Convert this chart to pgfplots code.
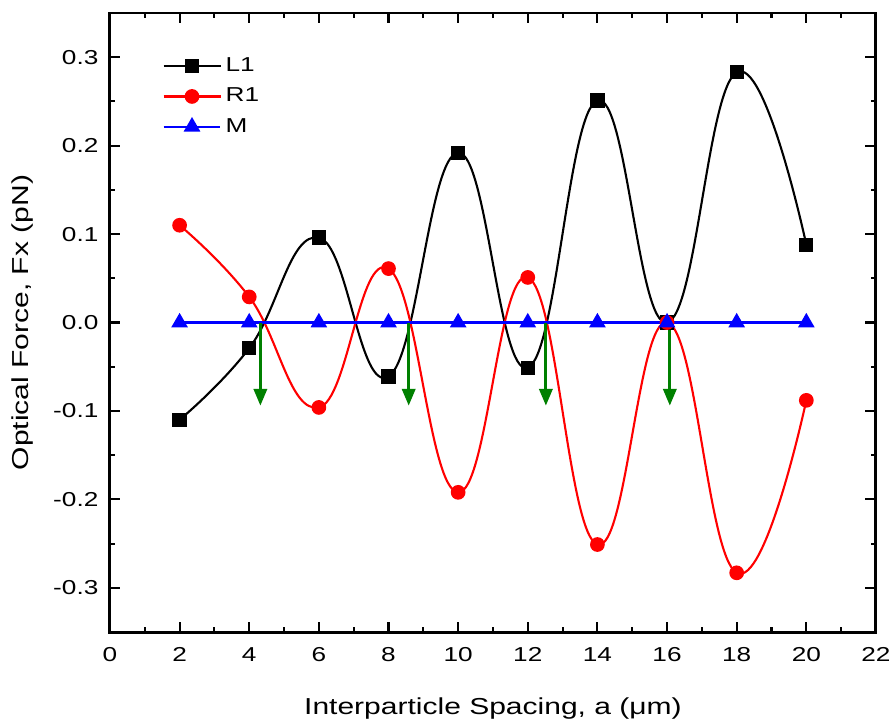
\documentclass[border=0pt]{standalone}
\usepackage{fontspec}
\setmainfont{Liberation Sans}[FakeStretch=1.3]
\usepackage{pgfplots}
\pgfplotsset{compat=1.18}
\usetikzlibrary{arrows.meta}
\definecolor{fgreen}{RGB}{0,128,0}

\begin{document}
\begin{tikzpicture}
\begin{axis}[
    scale only axis,
    width=365pt, height=295pt,
    xmin=0, xmax=22, ymin=-0.35, ymax=0.35,
    xtick={0,2,...,22},
    ytick={-0.3,-0.2,-0.1,0,0.1,0.2,0.3},
    minor x tick num=1, minor y tick num=1,
    tick align=inside,
    major tick length=5pt, minor tick length=2.5pt,
    axis line style={line width=1.4pt},
    every tick/.style={line width=1pt, black},
    tick label style={font=\fontsize{9.6}{11}\selectfont},
    xticklabel style={yshift=-4pt},
    yticklabel style={xshift=-2pt, /pgf/number format/.cd, fixed, fixed zerofill, precision=1},
    /pgf/number format/assume math mode=true,
    label style={font=\fontsize{11}{13}\selectfont},
    xlabel={Interparticle Spacing, a (μm)},
    ylabel={Optical Force, Fx (pN)},
    xlabel style={yshift=-10pt},
    ylabel style={yshift=2.5pt},
    legend style={draw=none, fill=none, at={(0.06,0.942)}, anchor=north west,
        font=\fontsize{9.6}{11}\selectfont, row sep=2.3pt},
    legend cell align=left,
    legend image code/.code={
        \draw[mark repeat=2, mark phase=2] plot coordinates {(0pt,0pt) (13.5pt,0pt) (27pt,0pt)};},
]
\addplot[black, line width=1pt, smooth, tension=0.75, mark=square*, mark size=2.9pt,
    mark options={solid}] coordinates {
    (2,-0.110) (4,-0.029) (6,0.096) (8,-0.061) (10,0.192)
    (12,-0.051) (14,0.251) (16,0.000) (18,0.283) (20,0.088)};
\addlegendentry{L1}
\addplot[red, line width=1pt, smooth, tension=0.75, mark=*, mark size=3pt] coordinates {
    (2,0.110) (4,0.029) (6,-0.096) (8,0.061) (10,-0.192)
    (12,0.051) (14,-0.251) (16,0.000) (18,-0.283) (20,-0.088)};
\addlegendentry{R1}
\addplot[blue, line width=1pt, mark=triangle*, mark size=3.6pt] coordinates {
    (2,0) (4,0) (6,0) (8,0) (10,0) (12,0) (14,0) (16,0) (18,0) (20,0)};
\addlegendentry{M}
\addplot[fgreen, line width=1.4pt, -{Triangle[width=6.3pt,length=8pt]}, forget plot]
    coordinates {(4.32,0) (4.32,-0.094)};
\addplot[fgreen, line width=1.4pt, -{Triangle[width=6.3pt,length=8pt]}, forget plot]
    coordinates {(8.58,0) (8.58,-0.094)};
\addplot[fgreen, line width=1.4pt, -{Triangle[width=6.3pt,length=8pt]}, forget plot]
    coordinates {(12.52,0) (12.52,-0.094)};
\addplot[fgreen, line width=1.4pt, -{Triangle[width=6.3pt,length=8pt]}, forget plot]
    coordinates {(16.08,0) (16.08,-0.094)};
\end{axis}
\pgfresetboundingbox
\path ([xshift=-52.4pt,yshift=-41.4pt]current axis.south west)
    rectangle ([xshift=8.6pt,yshift=6.2pt]current axis.north east);
\end{tikzpicture}
\end{document}
